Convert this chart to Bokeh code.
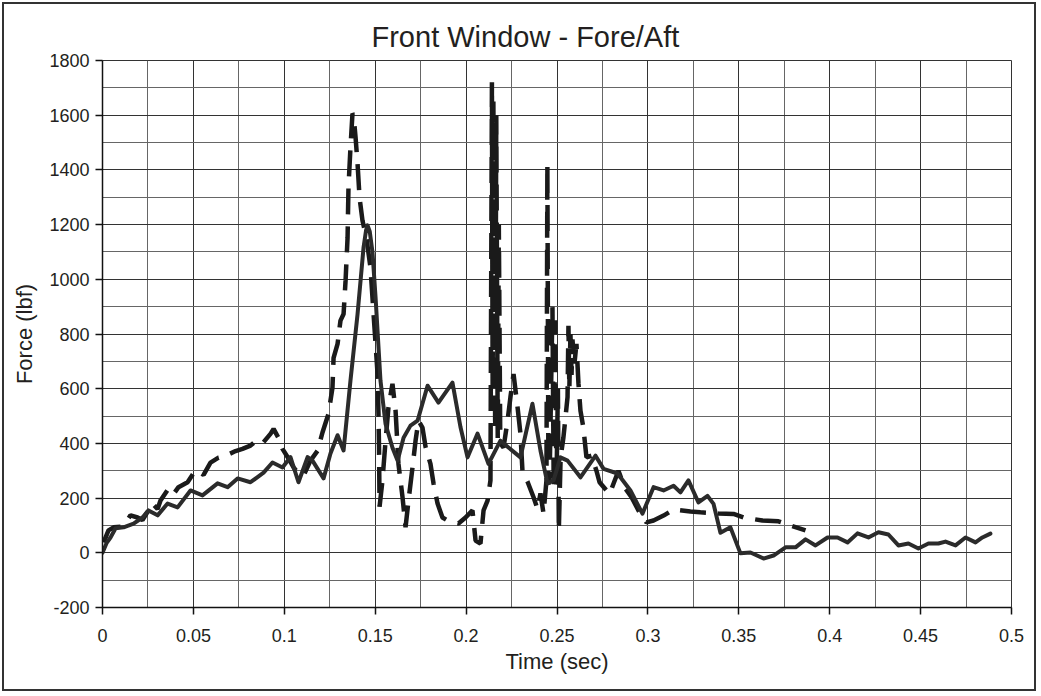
from bokeh.plotting import figure
from bokeh.models import Range1d, FixedTicker
from bokeh.embed import file_html
from bokeh.resources import INLINE

title_text = "Front Window - Fore/Aft"
x_label = "Time (sec)"
y_label = "Force (lbf)"

x_ticks = [0, 0.05, 0.1, 0.15, 0.2, 0.25, 0.3, 0.35, 0.4, 0.45, 0.5]
x_tick_labels = ["0", "0.05", "0.1", "0.15", "0.2", "0.25", "0.3", "0.35", "0.4", "0.45", "0.5"]
x_minor = [0.025, 0.075, 0.125, 0.175, 0.225, 0.275, 0.325, 0.375, 0.425, 0.475]
y_ticks = [-200, 0, 200, 400, 600, 800, 1000, 1200, 1400, 1600, 1800]
y_tick_labels = ["-200", "0", "200", "400", "600", "800", "1000", "1200", "1400", "1600", "1800"]
y_minor = [-100, 100, 300, 500, 700, 900, 1100, 1300, 1500, 1700]

# Solid series
solid_t = [0.0, 0.0022, 0.0044, 0.0072, 0.0116, 0.0171, 0.0220, 0.0253, 0.0303, 0.0358,
           0.0413, 0.0484, 0.0550, 0.0633, 0.0688, 0.0743, 0.0814, 0.0886, 0.0935, 0.0990,
           0.1034, 0.1078, 0.1128, 0.1155, 0.1216, 0.1254, 0.1293, 0.1326, 0.1364, 0.1403,
           0.1436, 0.1450, 0.1458, 0.1470, 0.1485, 0.1502, 0.1529, 0.1557, 0.1595, 0.1623,
           0.1656, 0.1694,
           0.1733, 0.1788, 0.1848, 0.1925, 0.1969, 0.2008, 0.2063, 0.2123, 0.2189, 0.2233,
           0.2299, 0.2365, 0.2409, 0.2448, 0.2481, 0.2519, 0.2558, 0.2629, 0.2712, 0.2756,
           0.2833, 0.2904, 0.2970, 0.3031, 0.3086, 0.3141, 0.3179, 0.3223, 0.3278, 0.3328,
           0.3361, 0.3399, 0.3454, 0.3509, 0.3564, 0.3636, 0.3691, 0.3757, 0.3812, 0.3867,
           0.3922, 0.3988, 0.4043, 0.4098, 0.4153, 0.4213, 0.4268, 0.4323, 0.4378, 0.4433,
           0.4488, 0.4543, 0.4598, 0.4637, 0.4692, 0.4747, 0.4802, 0.4840, 0.4884]
solid_f = [0, 35, 56, 90, 93, 107, 129, 155, 137, 180,
           166, 228, 210, 254, 240, 272, 258, 293, 330, 312,
           350, 258, 350, 337, 272, 363, 430, 374, 630, 873,
           1117, 1180, 1197, 1175, 1100, 934, 630, 471, 384, 337,
           421, 465,
           483, 611, 549, 622, 460, 349, 436, 325, 410, 385,
           349, 545, 374, 253, 265, 349, 337, 276, 355, 307,
           290, 228, 143, 240, 228, 245, 221, 265, 184, 208,
           179, 73, 93, -2, 1, -21, -10, 20, 20, 49,
           27, 56, 56, 38, 71, 56, 75, 67, 27, 34,
           16, 34, 34, 41, 27, 56, 38, 56, 70]

# Dashed series
dash_t = [0.0006, 0.0033, 0.0061, 0.0099, 0.0127, 0.0154, 0.0193, 0.0220, 0.0248, 0.0275,
          0.0303, 0.0319, 0.0363, 0.0391, 0.0418, 0.0468, 0.0512, 0.0556, 0.0594, 0.0638,
          0.0677, 0.0732, 0.0770, 0.0814, 0.0847, 0.0880, 0.0924, 0.0941, 0.0968, 0.0990,
          0.1023, 0.1051, 0.1078, 0.1106, 0.1144, 0.1183, 0.1210, 0.1243, 0.1265, 0.1271,
          0.1293, 0.1309, 0.1326, 0.1337, 0.1348, 0.1353, 0.1364, 0.1375, 0.1381, 0.1392,
          0.1403, 0.1414, 0.1430, 0.1452, 0.1474, 0.1491, 0.1513, 0.1518, 0.1521, 0.1524,
          0.1540, 0.1557, 0.1573, 0.1595, 0.1612, 0.1628, 0.1650, 0.1667, 0.1683, 0.1705,
          0.1722, 0.1738, 0.1760, 0.1777, 0.1804, 0.1821, 0.1843, 0.1870, 0.1898, 0.1931,
          0.1958, 0.1997, 0.2035, 0.2052, 0.2079, 0.2096, 0.2118, 0.2134,
          0.2138, 0.2142, 0.2146, 0.2150, 0.2160, 0.2166, 0.2174, 0.2180, 0.2188,
          0.2206, 0.2228, 0.2244, 0.2261, 0.2283, 0.2299, 0.2310, 0.2338, 0.2371, 0.2393,
          0.2409, 0.2426, 0.2442,
          0.2447, 0.2453, 0.2460, 0.2475, 0.2482, 0.2490, 0.2497, 0.2505, 0.2510,
          0.2520, 0.2535, 0.2547, 0.2558, 0.2563, 0.2568, 0.2574,
          0.2580, 0.2585, 0.2596, 0.2607, 0.2618, 0.2629, 0.2645, 0.2662, 0.2690, 0.2717,
          0.2734, 0.2789, 0.2838, 0.2871, 0.2910, 0.2948, 0.2992, 0.3031, 0.3086, 0.3141,
          0.3234, 0.3289, 0.3388, 0.3471, 0.3526, 0.3630, 0.3718, 0.3784, 0.3867]
dash_f = [38, 82, 93, 95, 110, 137, 129, 120, 150, 180,
          160, 191, 235, 215, 240, 258, 302, 285, 330, 348,
          355, 372, 380, 392, 410, 400, 435, 453, 420, 380,
          345, 312, 290, 282, 337, 373, 440, 508, 604, 713,
          764, 849, 873, 995, 1152, 1336, 1482, 1606, 1600, 1519,
          1422, 1298, 1215, 1150, 1043, 873, 654, 508, 387, 168,
          265, 410, 532, 618, 520, 325, 205, 93, 190, 311,
          410, 483, 458, 387, 325, 253, 180, 129, 118, 110,
          107, 129, 155, 45, 34, 155, 191, 265,
          1000, 1720, 600, 1650, 450, 1600, 420, 1200, 400,
          385, 483, 570, 654, 532, 436, 300, 260, 203, 160,
          217, 143, 265,
          1420, 250, 300, 900, 230, 850, 250, 600, 82,
          349, 420, 497, 570, 830, 600, 800,
          650, 780, 692, 764, 620, 520, 458, 349, 355, 300,
          258, 215, 300, 240, 203, 155, 111, 118, 136, 158,
          151, 148, 144, 142, 129, 118, 115, 100, 82]

ink = "#231f20"

p = figure(frame_width=909, frame_height=547, output_backend="svg", toolbar_location=None,
           x_range=Range1d(0, 0.5), y_range=Range1d(-200, 1800), title=title_text)
p.min_border_left = 98
p.min_border_right = 23
p.min_border_top = 56
p.min_border_bottom = 82
p.styles = {"border": "2px solid #333333", "margin": "2px"}
p.background_fill_color = "white"
p.border_fill_color = "white"
p.outline_line_color = "#333333"
p.outline_line_width = 1

p.title.text_font = "Liberation Sans"
p.title.text_font_size = "29px"
p.title.text_font_style = "normal"
p.title.text_color = ink
p.title.align = "left"
p.title.offset = 269
p.title.standoff = 16

p.xaxis.ticker = FixedTicker(ticks=x_ticks, minor_ticks=x_minor)
p.yaxis.ticker = FixedTicker(ticks=y_ticks, minor_ticks=y_minor)
p.xaxis.major_label_overrides = {t: s for t, s in zip(x_ticks, x_tick_labels)}
p.yaxis.major_label_overrides = {t: s for t, s in zip(y_ticks, y_tick_labels)}

for ax in (p.xaxis, p.yaxis):
    ax.axis_line_color = "#111111"
    ax.axis_line_width = 1.5
    ax.major_tick_line_color = "#111111"
    ax.major_tick_line_width = 1.5
    ax.major_tick_out = 7
    ax.major_tick_in = 0
    ax.minor_tick_line_color = None
    ax.major_label_text_font = "Liberation Sans"
    ax.major_label_text_font_size = "18px"
    ax.major_label_text_color = ink
    ax.axis_label_text_font = "Liberation Sans"
    ax.axis_label_text_font_size = "22px"
    ax.axis_label_text_font_style = "normal"
    ax.axis_label_text_color = ink

p.xaxis.axis_label = x_label
p.yaxis.axis_label = y_label
p.xaxis.major_label_standoff = 14
p.yaxis.major_label_standoff = 6
p.xaxis.axis_label_standoff = 4
p.yaxis.axis_label_standoff = 9

p.xgrid.grid_line_color = "#333333"
p.ygrid.grid_line_color = "#333333"
p.xgrid.grid_line_width = 1
p.ygrid.grid_line_width = 1
p.xgrid.minor_grid_line_color = "#666666"
p.ygrid.minor_grid_line_color = "#666666"
p.xgrid.minor_grid_line_width = 1
p.ygrid.minor_grid_line_width = 1

p.line(dash_t, dash_f, line_color="#1a1a1a", line_width=4.5, line_dash="26 12")
p.line(solid_t, solid_f, line_color="#2b2b2b", line_width=4, line_join="round", line_cap="round")

open("out.html", "w").write(file_html(p, INLINE))
